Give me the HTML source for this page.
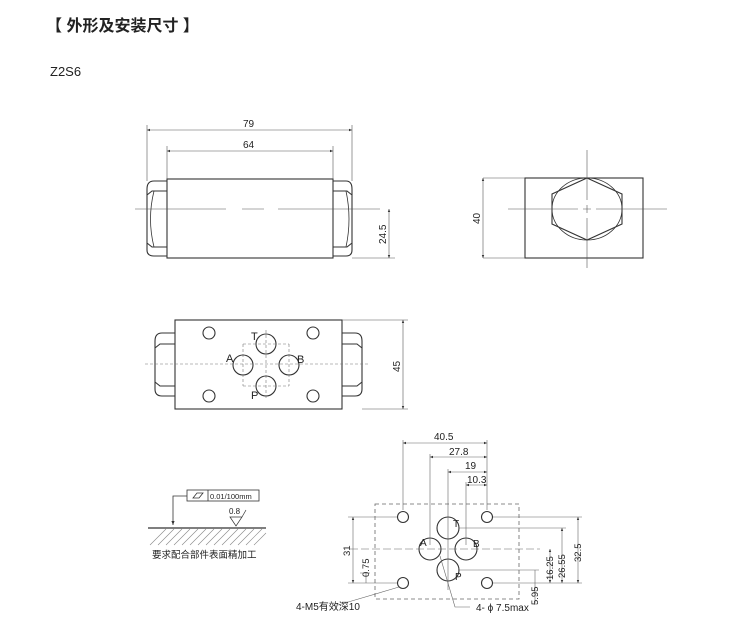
<!DOCTYPE html><html><head><meta charset="utf-8"><style>body{margin:0;background:#fff}svg{display:block}text{font-family:"Liberation Sans","Noto Sans CJK SC",sans-serif;fill:#222}</style></head><body>
<svg width="742" height="623" viewBox="0 0 742 623" xmlns="http://www.w3.org/2000/svg">
<defs><marker id="a" markerWidth="6" markerHeight="6" refX="5" refY="3" orient="auto-start-reverse"><path d="M0,1 L5,3 L0,5" fill="#333"/></marker></defs>
<text x="46" y="31" font-size="16" font-weight="bold">【 外形及安装尺寸 】</text>
<text x="50" y="76" font-size="13">Z2S6</text>
<g stroke="#333" fill="none" stroke-width="1.1">
<!-- top view -->
<rect x="167" y="179" width="166" height="79"/>
<path d="M167,181 H154 Q147,181 147,189 V250 Q147,256 154,256 H167 M147,195 L152,191 H167 M147,243 L152,247 H167"/>
<path d="M333,181 H346 Q352,181 352,189 V250 Q352,256 346,256 H333 M352,195 L347,191 H333 M352,243 L347,247 H333"/>
<path d="M154,191 Q147,219 154,247 M346,191 Q352,219 346,247" stroke-width="0.8"/>
</g>
<g stroke="#555" stroke-width="0.6" fill="none">
<path d="M135,209 H226 M242,209 H264 M278,209 H380" />
<path d="M147,181 V125 M352,181 V125 M167,179 V146 M333,179 V146 M352,258 H395"/>
<line x1="147" y1="130" x2="352" y2="130" marker-start="url(#a)" marker-end="url(#a)"/>
<line x1="167" y1="151" x2="333" y2="151" marker-start="url(#a)" marker-end="url(#a)"/>
<line x1="389" y1="209" x2="389" y2="258" marker-start="url(#a)" marker-end="url(#a)"/>
</g>
<text x="243" y="127" font-size="10">79</text>
<text x="243" y="148" font-size="10">64</text>
<text transform="translate(386,244) rotate(-90)" font-size="10">24.5</text>
<!-- front view -->
<g stroke="#333" fill="none" stroke-width="1.1">
<rect x="525" y="178" width="118" height="80"/>
<path d="M587,178 L622,194 L622,224 L587,240 L552,224 L552,194 Z"/>
<ellipse cx="587" cy="209" rx="35" ry="31" stroke-width="0.8"/>
</g>
<g stroke="#555" stroke-width="0.6" fill="none">
<path d="M508,209 H578 M583,209 H591 M596,209 H667 M587,150 V200 M587,205 V213 M587,218 V268 M483,178 H525 M483,258 H525"/>
<line x1="483" y1="178" x2="483" y2="258" marker-start="url(#a)" marker-end="url(#a)"/>
</g>
<text transform="translate(480,224) rotate(-90)" font-size="10">40</text>
<!-- bottom view -->
<g stroke="#333" fill="none" stroke-width="1.1">
<rect x="175" y="320" width="167" height="89"/>
<path d="M175,333 H162 Q155,333 155,341 V389 Q155,396 162,396 H175 M155,348 L160,344 H175 M155,382 L160,386 H175"/>
<path d="M342,333 H355 Q362,333 362,341 V389 Q362,396 355,396 H342 M362,348 L357,344 H342 M362,382 L357,386 H342"/>
<circle cx="209" cy="333" r="6"/><circle cx="313" cy="333" r="6"/><circle cx="209" cy="396" r="6"/><circle cx="313" cy="396" r="6"/>
<circle cx="266" cy="344" r="10"/><circle cx="243" cy="365" r="10"/><circle cx="289" cy="365" r="10"/><circle cx="266" cy="386" r="10"/>
</g>
<g stroke="#777" stroke-width="0.6" fill="none" stroke-dasharray="3,2">
<path d="M145,364 H370 M266,330 V400 M243,344 V386 M289,344 V386 M243,344 H289 M243,386 H289"/>
</g>
<g stroke="#555" stroke-width="0.6"><path d="M342,320 H408 M362,409 H408"/><line x1="403" y1="320" x2="403" y2="409" marker-start="url(#a)" marker-end="url(#a)"/></g>
<text x="251" y="340" font-size="11">T</text><text x="226" y="362" font-size="11">A</text><text x="297" y="363" font-size="11">B</text><text x="251" y="399" font-size="11">P</text>
<text transform="translate(400,372) rotate(-90)" font-size="10">45</text>
<!-- mounting face -->
<rect x="375" y="504" width="144" height="95" fill="none" stroke="#666" stroke-width="0.8" stroke-dasharray="4,3"/>
<g stroke="#333" fill="none" stroke-width="1.1">
<circle cx="403" cy="517" r="5.5"/><circle cx="487" cy="517" r="5.5"/><circle cx="403" cy="583" r="5.5"/><circle cx="487" cy="583" r="5.5"/>
<circle cx="448" cy="528" r="11"/><circle cx="430" cy="549" r="11"/><circle cx="466" cy="549" r="11"/><circle cx="448" cy="570" r="11"/>
</g>
<g stroke="#666" stroke-width="0.6" fill="none">
<path d="M350,549 H540" stroke-dasharray="8,3"/>
<path d="M403,440 V510 M430,454 V545 M448,469 V520 M466,482 V545 M487,440 V510 M448,510 V590"/>
<path d="M348,517 H397 M493,517 H582 M459,528 H566 M458,570 H539 M348,583 H397 M493,583 H582 M360,573 H370"/>
<line x1="403" y1="443" x2="487" y2="443" marker-start="url(#a)" marker-end="url(#a)"/>
<line x1="430" y1="457" x2="487" y2="457" marker-start="url(#a)" marker-end="url(#a)"/>
<line x1="448" y1="472" x2="487" y2="472" marker-start="url(#a)" marker-end="url(#a)"/>
<line x1="466" y1="485" x2="487" y2="485" marker-start="url(#a)" marker-end="url(#a)"/>
<line x1="353" y1="517" x2="353" y2="583" marker-start="url(#a)" marker-end="url(#a)"/>
<line x1="366" y1="573" x2="366" y2="583"/>
<line x1="535" y1="570" x2="535" y2="605"/>
<line x1="550" y1="549" x2="550" y2="583" marker-start="url(#a)" marker-end="url(#a)"/>
<line x1="562" y1="528" x2="562" y2="583" marker-start="url(#a)" marker-end="url(#a)"/>
<line x1="578" y1="517" x2="578" y2="583" marker-start="url(#a)" marker-end="url(#a)"/>
<path d="M338,605 L399,587 M470,607 L455,607 L440,556"/>
</g>
<g font-size="10"><text x="434" y="440">40.5</text><text x="449" y="455">27.8</text><text x="465" y="469">19</text><text x="467" y="483">10.3</text></g>
<g font-size="9.5">
<text transform="translate(350,556) rotate(-90)">31</text>
<text transform="translate(369,577) rotate(-90)">0.75</text>
<text transform="translate(538,605) rotate(-90)">5.95</text>
<text transform="translate(553,580) rotate(-90)">16.25</text>
<text transform="translate(565,578) rotate(-90)">26.55</text>
<text transform="translate(581,562) rotate(-90)">32.5</text>
</g>
<g font-family="Liberation Serif" font-size="10"><text x="453" y="527">T</text><text x="420" y="546">A</text><text x="473" y="547">B</text><text x="455" y="580">P</text></g>
<text x="296" y="610" font-size="10">4-M5有效深10</text>
<text x="476" y="611" font-size="10">4- ϕ 7.5max</text>
<!-- surface symbol -->
<g stroke="#333" fill="none" stroke-width="0.8">
<rect x="187" y="490" width="72" height="11"/><line x1="208" y1="490" x2="208" y2="501"/>
<path d="M193,498 L197,493 H203 L199,498 Z"/>
<path d="M187,496 H173 V525" marker-end="url(#a)"/>
<path d="M148,528 H266" stroke-width="1.3"/>
<path d="M230,517 L236,526 L242,517 Z M242,517 L246,510" stroke-width="0.7"/>
</g>
<g stroke="#888" stroke-width="0.6"><path d="M150,545 L166,529 M158,545 L174,529 M166,545 L182,529 M174,545 L190,529 M182,545 L198,529 M190,545 L206,529 M198,545 L214,529 M206,545 L222,529 M214,545 L230,529 M222,545 L238,529 M230,545 L246,529 M238,545 L254,529 M246,545 L262,529 M254,545 L266,533"/></g>
<text x="210" y="499" font-size="7.5">0.01/100mm</text>
<text x="229" y="514" font-size="8">0.8</text>
<text x="152" y="558" font-size="9.5">要求配合部件表面精加工</text>
</svg>
</body></html>
